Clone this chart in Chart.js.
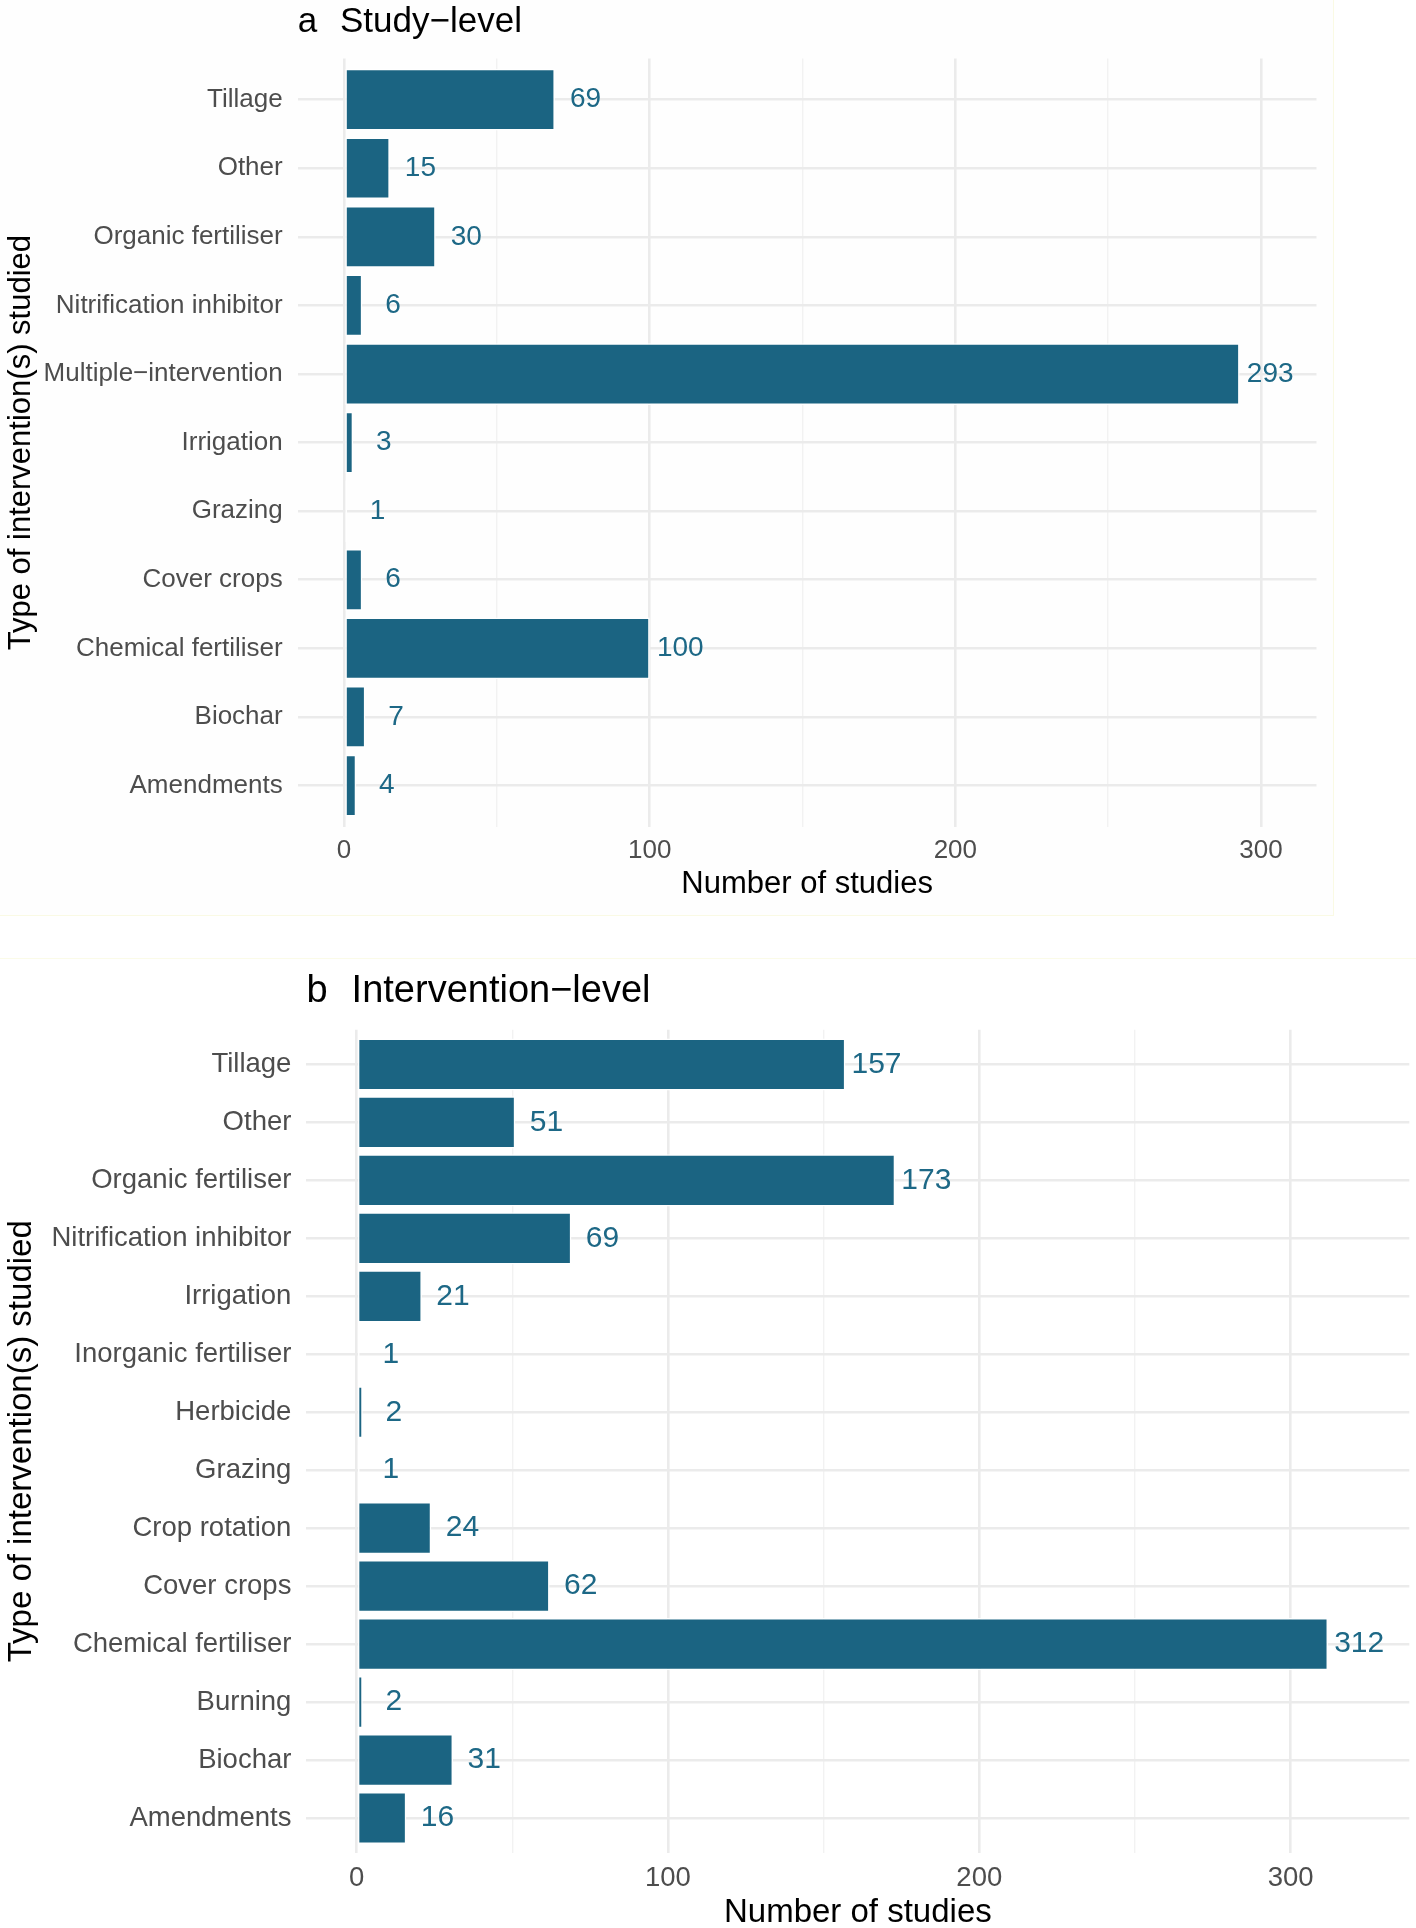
<!DOCTYPE html>
<html>
<head>
<meta charset="utf-8">
<title>Type of intervention(s) studied</title>
<script src="https://cdn.jsdelivr.net/npm/chart.js@4.4.1/dist/chart.umd.min.js"></script>
<style>
    html, body { margin: 0; padding: 0; background: #ffffff; }
    body { width: 1416px; height: 1928px; position: relative; overflow: hidden; }
    #frameA { position: absolute; left: 0; top: 0; width: 1333px; height: 915px; background: #fefefe;
              border-right: 1px solid #fafae4; border-bottom: 1px solid #fafae4; }
    #lineB { position: absolute; left: 0; top: 958px; width: 1416px; height: 1px; background: #fbfbe8; }
    #panelA { position: absolute; left: 0; top: 0; width: 1334px; height: 916px; }
    #panelB { position: absolute; left: 0; top: 958px; width: 1416px; height: 980px; }
</style>
</head>
<body>
<div id="frameA"></div>
<div id="lineB"></div>
<div id="panelA"><canvas id="studyLevelChart"></canvas></div>
<div id="panelB"><canvas id="interventionLevelChart"></canvas></div>

<script>
// Panel a - study level
const studyCategories = ['Tillage', 'Other', 'Organic fertiliser', 'Nitrification inhibitor',
    'Multiple\u2212intervention', 'Irrigation', 'Grazing', 'Cover crops', 'Chemical fertiliser',
    'Biochar', 'Amendments'];
const studyCounts = [69, 15, 30, 6, 293, 3, 1, 6, 100, 7, 4];

// Panel b - intervention level
const interventionCategories = ['Tillage', 'Other', 'Organic fertiliser', 'Nitrification inhibitor',
    'Irrigation', 'Inorganic fertiliser', 'Herbicide', 'Grazing', 'Crop rotation', 'Cover crops',
    'Chemical fertiliser', 'Burning', 'Biochar', 'Amendments'];
const interventionCounts = [157, 51, 173, 69, 21, 1, 2, 1, 24, 62, 312, 2, 31, 16];

// x axis ticks (only hundreds get a label, the rest are minor grid lines)
const xTickValues = [0, 50, 100, 150, 200, 250, 300];
const labelNudge = 10; // value labels sit this many units past the bar end

const barColor = '#1b6482';
const labelColor = '#1d6886';
const fontFamily = '"Liberation Sans", Arial, Helvetica, sans-serif';

let studyChart = null;
let interventionChart = null;

// draws the value labels and the "a  Title" heading
const panelDecor = {
    id: 'panelDecor',
    afterDatasetsDraw(chart, args, opts) {
        const ctx = chart.ctx;
        const xs = chart.scales.x;
        const ys = chart.scales.y;
        ctx.save();
        ctx.fillStyle = labelColor;
        ctx.font = opts.valueFont + 'px ' + fontFamily;
        ctx.textAlign = 'center';
        ctx.textBaseline = 'middle';
        chart.data.datasets[0].data.forEach(p => {
            ctx.fillText(String(p.x), xs.getPixelForValue(p.x + labelNudge), ys.getPixelForValue(p.y));
        });
        ctx.fillStyle = '#000000';
        ctx.textAlign = 'left';
        ctx.textBaseline = 'alphabetic';
        ctx.font = opts.titleFont + 'px ' + fontFamily;
        ctx.fillText(opts.tag, chart.chartArea.left, opts.titleBaseline);
        ctx.fillText(opts.title, chart.chartArea.left + opts.titleGap, opts.titleBaseline);
        ctx.restore();
    }
};

document.addEventListener('DOMContentLoaded', function () {
    studyChart = drawPanel('studyLevelChart', studyCategories, studyCounts, {
        tag: 'a', title: 'Study\u2212level', titleFont: 35, titleBaseline: 31.5, titleGap: 42.3,
        valueFont: 28, tickFont: 26, axisFont: 31,
        left: 297.7, right: 17.5, top: 58.5, xHeight: 89.3,
        xTickPad: 8.4, xTitlePad: 16, yTickPad: 15, yTitlePad: 5.5
    });
    interventionChart = drawPanel('interventionLevelChart', interventionCategories, interventionCounts, {
        tag: 'b', title: 'Intervention\u2212level', titleFont: 38, titleBaseline: 43.7, titleGap: 45.2,
        valueFont: 30, tickFont: 27.5, axisFont: 33,
        left: 306.4, right: 6.7, top: 71.7, xHeight: 85.2,
        xTickPad: 9, xTitlePad: 8.8, yTickPad: 15, yTitlePad: 5.5
    });
});

function drawPanel(canvasId, categories, counts, look) {
    const dataMax = Math.max(...counts) + labelNudge; // ggplot style 5% expansion
    const ctx = document.getElementById(canvasId).getContext('2d');
    return new Chart(ctx, {
        type: 'bar',
        data: {
            labels: categories,
            datasets: [{
                data: counts.map((v, i) => ({ x: v, y: i })),
                backgroundColor: barColor,
                borderColor: '#ffffff',
                borderWidth: 1.5,
                borderSkipped: false,
                barPercentage: 0.9,
                categoryPercentage: 1
            }]
        },
        options: {
            indexAxis: 'y',
            responsive: true,
            maintainAspectRatio: false,
            animation: false,
            layout: { padding: { top: look.top, right: look.right, left: 0, bottom: 0 } },
            plugins: {
                legend: { display: false },
                tooltip: { enabled: false },
                panelDecor: look
            },
            scales: {
                x: {
                    type: 'linear',
                    min: -0.05 * dataMax,
                    max: 1.05 * dataMax,
                    afterBuildTicks: s => { s.ticks = xTickValues.map(v => ({ value: v })); },
                    afterFit: s => { s.height = look.xHeight; },
                    border: { display: false },
                    grid: {
                        drawTicks: false,
                        color: c => (c.tick && c.tick.value % 100 === 0) ? '#ebebeb' : '#f2f2f2',
                        lineWidth: c => (c.tick && c.tick.value % 100 === 0) ? 2.6 : 1.4
                    },
                    ticks: {
                        autoSkip: false,
                        maxRotation: 0,
                        padding: look.xTickPad,
                        color: '#4d4d4d',
                        font: { family: fontFamily, size: look.tickFont },
                        callback: v => (v % 100 === 0 ? String(v) : '')
                    },
                    title: {
                        display: true,
                        text: 'Number of studies',
                        color: '#000000',
                        font: { family: fontFamily, size: look.axisFont, lineHeight: 1 },
                        padding: { top: 0, bottom: look.xTitlePad }
                    }
                },
                y: {
                    type: 'linear',
                    reverse: true,
                    offset: false,
                    min: -0.6,
                    max: categories.length - 0.4,
                    afterBuildTicks: s => { s.ticks = categories.map((c, i) => ({ value: i })); },
                    afterFit: s => { s.width = look.left; },
                    border: { display: false },
                    grid: { drawTicks: false, offset: false, color: '#ebebeb', lineWidth: 2.6 },
                    ticks: {
                        autoSkip: false,
                        padding: look.yTickPad,
                        color: '#4d4d4d',
                        font: { family: fontFamily, size: look.tickFont },
                        callback: v => categories[v]
                    },
                    title: {
                        display: true,
                        text: 'Type of intervention(s) studied',
                        color: '#000000',
                        font: { family: fontFamily, size: look.axisFont, lineHeight: 1 },
                        padding: { top: look.yTitlePad, bottom: 0 }
                    }
                }
            }
        },
        plugins: [panelDecor]
    });
}
</script>
</body>
</html>
